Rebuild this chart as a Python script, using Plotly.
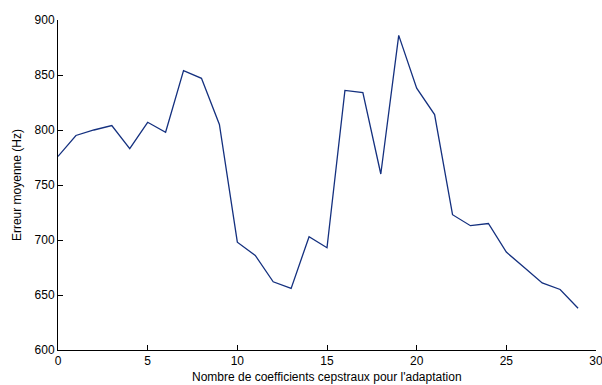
import plotly.graph_objects as go

# number of cepstral coefficients used for adaptation
n_coeffs = list(range(30))
# mean error (Hz)
erreur = [776, 795, 800, 804, 783, 807, 798, 854, 847, 805,
          698, 686, 662, 656, 703, 693, 836, 834, 760, 886,
          838, 814, 723, 713, 715, 689, 675, 661, 655, 638]

x_ticks = [0, 5, 10, 15, 20, 25, 30]
y_ticks = [600, 650, 700, 750, 800, 850, 900]

fig = go.Figure()
fig.add_trace(go.Scatter(x=n_coeffs, y=erreur, mode="lines",
                         line=dict(color="#14307f", width=1.3)))

axis_common = dict(showgrid=False, zeroline=False, showline=True,
                   linecolor="black", linewidth=1, ticks="inside",
                   ticklen=5, tickcolor="black", mirror=False,
                   automargin=False, ticklabeloverflow="allow",
                   tickfont=dict(size=12, color="black"))

fig.update_layout(
    width=602, height=385,
    margin=dict(l=58, r=6, t=20, b=35, autoexpand=False),
    paper_bgcolor="white", plot_bgcolor="white",
    font=dict(family="Liberation Sans, Arial, sans-serif", size=12, color="black"),
    showlegend=False,
    xaxis=dict(range=[0, 30], tickvals=x_ticks, **axis_common),
    yaxis=dict(range=[600, 900], tickvals=y_ticks, **axis_common),
    annotations=[
        dict(text="Nombre de coefficients cepstraux pour l'adaptation",
             x=0.5, y=-0.083, xref="paper", yref="paper",
             xanchor="center", yanchor="middle", showarrow=False,
             font=dict(size=12)),
        dict(text="Erreur moyenne (Hz)", textangle=-90,
             x=-0.076, y=0.5, xref="paper", yref="paper",
             xanchor="center", yanchor="middle", showarrow=False,
             font=dict(size=12)),
    ],
)

# drop the default page margin so the figure fills the window exactly
fig.write_html("out.html", config={"displayModeBar": False},
               post_script="document.body.style.margin='0';document.body.style.overflow='hidden';")
